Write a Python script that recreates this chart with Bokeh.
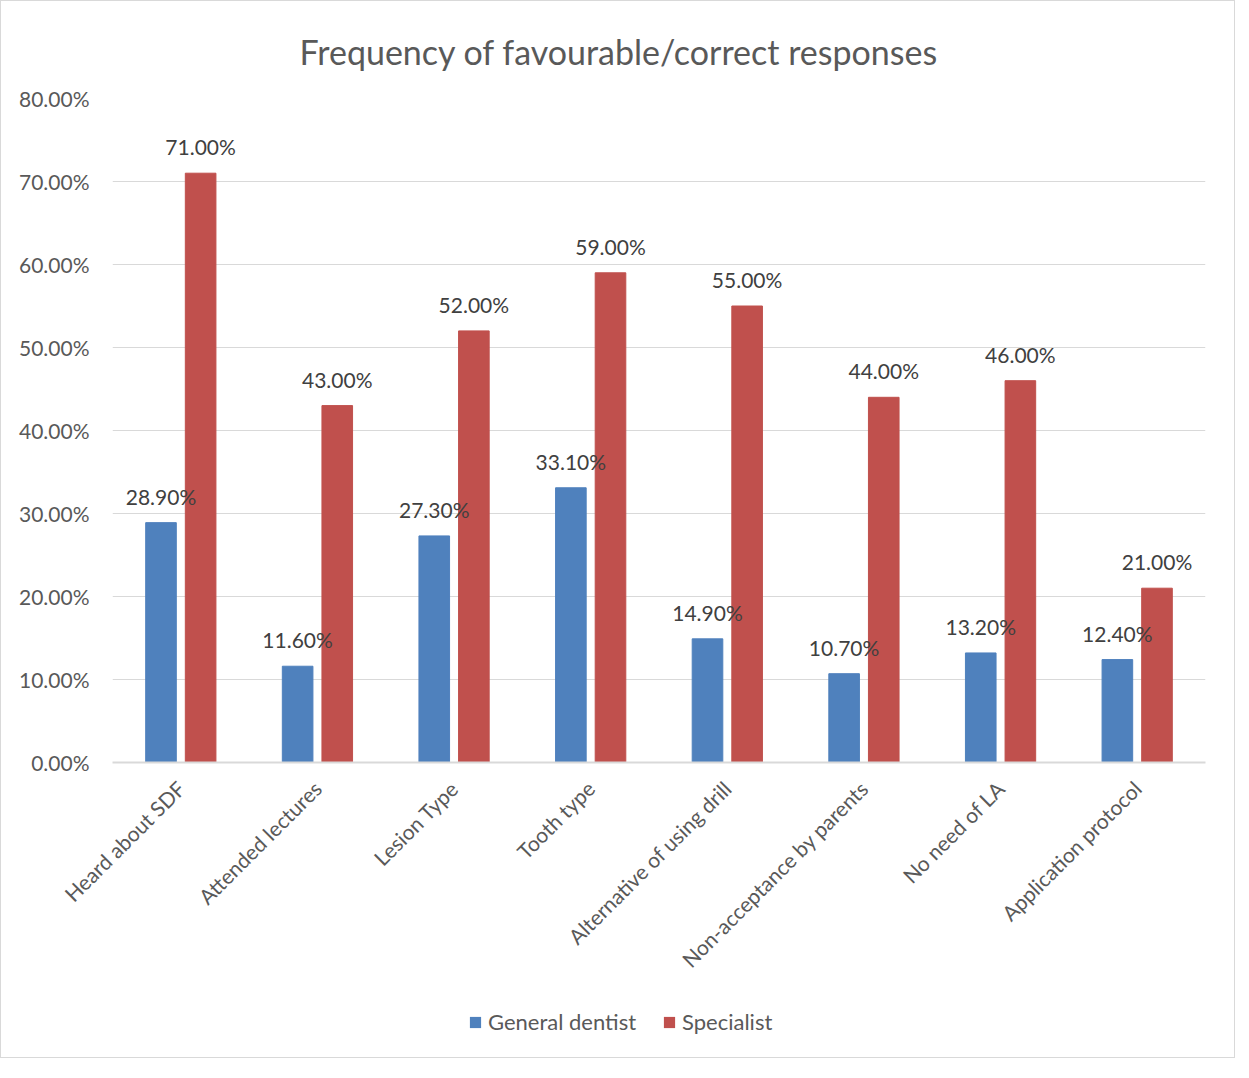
from bokeh.plotting import figure
from bokeh.models import (ColumnDataSource, FactorRange, Range1d, NumeralTickFormatter,
                          LabelSet, Legend, LegendItem, FixedTicker)
from bokeh.layouts import column
from bokeh.core.properties import value
from bokeh.transform import dodge
from bokeh.embed import file_html
from bokeh.resources import INLINE

categories = ["Heard about SDF", "Attended lectures", "Lesion Type", "Tooth type",
              "Alternative of using drill", "Non-acceptance by parents", "No need of LA",
              "Application protocol"]
general_dentist = [0.289, 0.116, 0.273, 0.331, 0.149, 0.107, 0.132, 0.124]
specialist = [0.71, 0.43, 0.52, 0.59, 0.55, 0.44, 0.46, 0.21]
y_ticks = [0.0, 0.1, 0.2, 0.3, 0.4, 0.5, 0.6, 0.7, 0.8]
series_names = ["General dentist", "Specialist"]

FONT = "Lato"
BLUE = "#4F81BD"
RED = "#C0504D"
GRID = "#D9D9D9"
TXT = "#595959"
LBL = "#404040"
FS = "21px"

src = ColumnDataSource(dict(
    cats=categories,
    gd=general_dentist,
    sp=specialist,
    gd_lbl=["%.2f%%" % (v * 100) for v in general_dentist],
    sp_lbl=["%.2f%%" % (v * 100) for v in specialist],
))

p = figure(frame_width=1093, frame_height=664,
           x_range=FactorRange(*categories, range_padding=0),
           y_range=Range1d(0, 0.8), output_backend="svg", toolbar_location=None,
           title="Frequency of favourable/correct responses")
p.min_border_left = 111
p.min_border_right = 29
p.min_border_top = 97
p.min_border_bottom = 236
p.outline_line_color = None

p.title.align = "left"
p.title.offset = 187
p.title.text_font = FONT
p.title.text_font_size = "34px"
p.title.text_font_style = "normal"
p.title.text_color = TXT
p.title.standoff = 54

p.vbar(x=dodge("cats", -0.145, range=p.x_range), top="gd", width=0.224, source=src,
       fill_color=BLUE, line_color=BLUE)
p.vbar(x=dodge("cats", 0.145, range=p.x_range), top="sp", width=0.224, source=src,
       fill_color=RED, line_color=RED)

for fld, lbl, off in (("gd", "gd_lbl", -0.145), ("sp", "sp_lbl", 0.145)):
    ls = LabelSet(x=dodge("cats", off, range=p.x_range), y=fld, text=lbl, source=src,
                  text_align="center", text_baseline="alphabetic", y_offset=18,
                  text_font=value(FONT), text_font_size=value(FS), text_color=LBL)
    p.add_layout(ls)

p.xgrid.grid_line_color = None
p.ygrid.grid_line_color = GRID
p.ygrid.grid_line_width = 1

p.yaxis.ticker = FixedTicker(ticks=y_ticks)
p.yaxis.formatter = NumeralTickFormatter(format="0.00%")
p.yaxis.axis_line_color = None
p.yaxis.major_tick_line_color = None
p.yaxis.minor_tick_line_color = None
p.yaxis.major_label_text_font = FONT
p.yaxis.major_label_text_font_size = FS
p.yaxis.major_label_text_color = TXT
p.yaxis.major_label_standoff = 17

p.xaxis.axis_line_color = GRID
p.xaxis.axis_line_width = 2
p.xaxis.major_tick_line_color = None
p.xaxis.minor_tick_line_color = None
p.xaxis.major_label_orientation = 0.785398
p.xaxis.major_label_text_font = FONT
p.xaxis.major_label_text_font_size = FS
p.xaxis.major_label_text_color = TXT
p.xaxis.major_label_standoff = 16

# legend strip below the chart (swatch renderers sit outside its visible range)
lg = figure(width=1233, height=59, output_backend="svg", toolbar_location=None,
            x_axis_location=None, y_axis_location=None, min_border=0,
            x_range=Range1d(0, 1), y_range=Range1d(1, 2))
lg.outline_line_color = None
lg.grid.visible = False
d1 = lg.vbar(x=[0], top=[0], width=0.01, fill_color=BLUE, line_color=None)
d2 = lg.vbar(x=[0], top=[0], width=0.01, fill_color=RED, line_color=None)
legend = Legend(items=[LegendItem(label=series_names[0], renderers=[d1]),
                       LegendItem(label=series_names[1], renderers=[d2])],
                orientation="horizontal", location=(356, 22),
                glyph_width=14, glyph_height=14, label_standoff=6, spacing=26,
                label_text_font=FONT, label_text_font_size="22px", label_text_color=TXT,
                border_line_color=None, background_fill_alpha=0, padding=4, margin=0)
lg.add_layout(legend, "center")

layout = column(p, lg, spacing=0, styles={"border": "1px solid #D9D9D9"})

open("out.html", "w").write(file_html(layout, INLINE))
